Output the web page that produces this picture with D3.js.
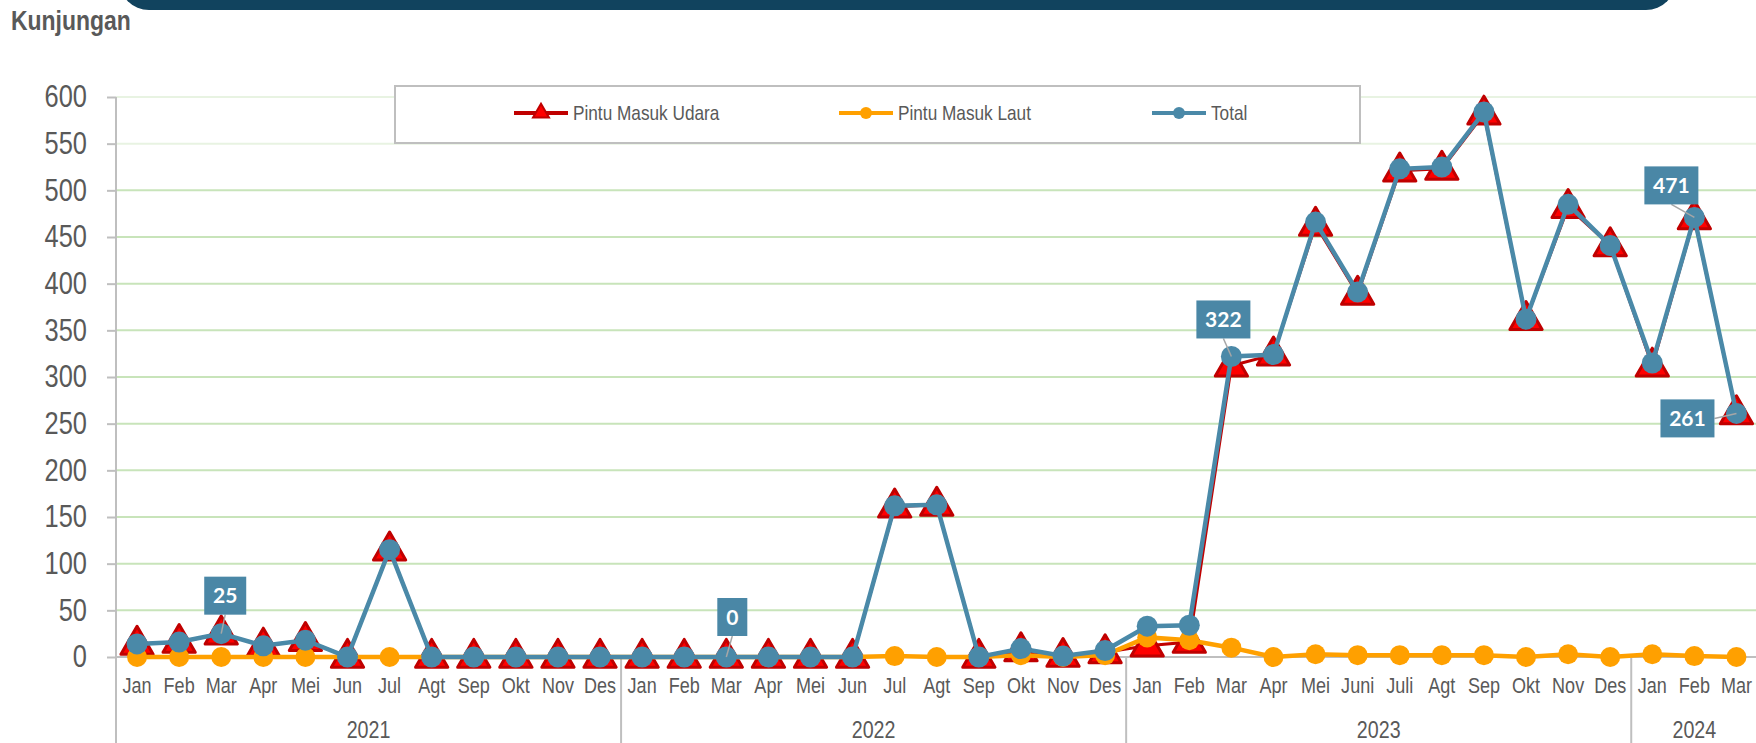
<!doctype html>
<html lang="id">
<head>
<meta charset="utf-8">
<title>Kunjungan</title>
<script src="https://d3js.org/d3.v7.min.js"></script>
<style>
  body { margin: 0; background: #fff; }
  svg text { font-family: "Liberation Sans", Arial, sans-serif; fill: #595959; }
</style>
</head>
<body>
<svg id="chart" width="1756" height="743"></svg>
<script>
// categories
var months = ["Jan","Feb","Mar","Apr","Mei","Jun","Jul","Agt","Sep","Okt","Nov","Des",
              "Jan","Feb","Mar","Apr","Mei","Jun","Jul","Agt","Sep","Okt","Nov","Des",
              "Jan","Feb","Mar","Apr","Mei","Juni","Juli","Agt","Sep","Okt","Nov","Des",
              "Jan","Feb","Mar"];
var years = ["2021","2022","2023","2024"];
var yearSpans = [12, 12, 12, 3];

// series
var udara = [14,16,25,12,18,0,115,0,0,0,0,0,
             0,0,0,0,0,0,161,163,0,7,1,5,
             12,16,312,324,463,389,521,523,582,362,482,441,
             312,470,261];
var laut  = [0,0,0,0,0,0,0,0,0,0,0,0,
             0,0,0,0,0,0,1,0,0,2,0,2,
             21,18,10,0,3,2,2,2,2,0,3,0,
             3,1,0];
var total = [14,16,25,12,18,0,115,0,0,0,0,0,
             0,0,0,0,0,0,162,163,0,9,1,7,
             33,34,322,324,466,391,523,525,584,362,485,441,
             315,471,261];

var yTicks = [0,50,100,150,200,250,300,350,400,450,500,550,600];
var seriesNames = ["Pintu Masuk Udara", "Pintu Masuk Laut", "Total"];
var labelled = [2, 14, 26, 37, 38];   // indices of total points with data labels

var svg = d3.select("#chart");
var idx = d3.range(months.length);
var SQ = 0.82;   // horizontal squeeze, stands in for a narrow font

var x = d3.scaleBand().domain(idx).range([116, 116 + 42.09 * months.length]).paddingInner(0);
var y = d3.scaleLinear().domain([0, 600]).range([657, 97]);
var cx = function(i) { return x(i) + x.bandwidth() / 2; };

function ntext(parent, tx, ty, str, size) {
  return parent.append("text")
    .attr("transform", "translate(" + tx + "," + ty + ") scale(" + SQ + ",1)")
    .style("font-size", size + "px").text(str);
}

// header bar
svg.append("rect").attr("x", 119).attr("y", -60).attr("width", 1557).attr("height", 70)
  .attr("rx", 30).attr("fill", "#11435e");

ntext(svg, 11, 30, "Kunjungan", 28).style("font-weight", "bold");

// gridlines
svg.append("g").selectAll("line").data(yTicks.filter(function(d){ return d > 0; }))
  .join("line")
  .attr("x1", 116).attr("x2", 1756)
  .attr("y1", function(d){ return y(d); }).attr("y2", function(d){ return y(d); })
  .attr("stroke", function(d){ return d >= 550 ? "#e8f3e2" : "#c8e4ba"; })
  .attr("stroke-width", 2);

// y axis
var yAxis = svg.append("g").attr("transform", "translate(116,0)")
  .call(d3.axisLeft(y).tickValues(yTicks).tickSize(9));
yAxis.select(".domain").remove();
yAxis.selectAll("line").attr("stroke", "#bfbfbf").attr("stroke-width", 2);
yAxis.selectAll("text").attr("x", 0).attr("fill", "#595959")
  .attr("transform", "translate(-29,0) scale(" + SQ + ",1)")
  .style("font-size", "31px");
svg.append("line").attr("x1", 116).attr("x2", 116).attr("y1", 97).attr("y2", 743)
  .attr("stroke", "#bfbfbf").attr("stroke-width", 2);

// x axis
svg.append("line").attr("x1", 116).attr("x2", 1756).attr("y1", 657).attr("y2", 657)
  .attr("stroke", "#bfbfbf").attr("stroke-width", 2);
var xAxis = svg.append("g").attr("transform", "translate(0,657)")
  .call(d3.axisBottom(x).tickSize(0).tickPadding(20).tickFormat(function(i){ return months[i]; }));
xAxis.select(".domain").remove();
xAxis.selectAll("text").attr("fill", "#595959")
  .attr("transform", "scale(" + SQ + ",1)")
  .style("font-size", "22px");

// year groups
var start = 0;
years.forEach(function(yr, k) {
  var a = x(start), b = x(start + yearSpans[k] - 1) + x.bandwidth();
  ntext(svg, (a + b) / 2, 738, yr, 24).attr("text-anchor", "middle");
  if (k > 0) {
    svg.append("line").attr("x1", a).attr("x2", a).attr("y1", 657).attr("y2", 743)
      .attr("stroke", "#bfbfbf").attr("stroke-width", 2);
  }
  start += yearSpans[k];
});

var line = function(vals) {
  return d3.line().x(function(i){ return cx(i); }).y(function(i){ return y(vals[i]); })(idx);
};
var tri = d3.symbol().type(d3.symbolTriangle).size(450);

// Pintu Masuk Udara
svg.append("path").attr("d", line(udara)).attr("fill", "none")
  .attr("stroke", "#c00000").attr("stroke-width", 3);
svg.append("g").selectAll("path").data(idx).join("path")
  .attr("d", tri)
  .attr("transform", function(i){ return "translate(" + cx(i) + "," + (y(udara[i]) + 1) + ")"; })
  .attr("fill", "#ff0000").attr("stroke", "#c00000").attr("stroke-width", 3)
  .attr("stroke-linejoin", "round");

// Pintu Masuk Laut
svg.append("path").attr("d", line(laut)).attr("fill", "none")
  .attr("stroke", "#ffa000").attr("stroke-width", 4.5);
svg.append("g").selectAll("circle").data(idx).join("circle")
  .attr("cx", cx).attr("cy", function(i){ return y(laut[i]); }).attr("r", 10)
  .attr("fill", "#ffa000");

// Total
svg.append("path").attr("d", line(total)).attr("fill", "none")
  .attr("stroke", "#4a89a8").attr("stroke-width", 4.5);
svg.append("g").selectAll("circle").data(idx).join("circle")
  .attr("cx", cx).attr("cy", function(i){ return y(total[i]); }).attr("r", 10.5)
  .attr("fill", "#4a89a8");

// data labels
var boxOffsets = { 2: [4, -38], 14: [6, -40], 26: [-8, -37], 37: [-23, -32], 38: [-49, 5] };
labelled.forEach(function(i) {
  var px = cx(i), py = y(total[i]);
  var t = String(total[i]);
  var w = 18 + 12 * t.length, h = 38;
  var bx = px + boxOffsets[i][0], by = py + boxOffsets[i][1];
  var lx = bx, ly = by + h / 2;
  if (i === 38) { lx = bx + w / 2; ly = by; }
  svg.append("line").attr("x1", lx).attr("y1", ly).attr("x2", px).attr("y2", py)
    .attr("stroke", "#a6a6a6").attr("stroke-width", 1.5);
  svg.append("rect").attr("x", bx - w / 2).attr("y", by - h / 2).attr("width", w).attr("height", h)
    .attr("fill", "#4a87a6");
  svg.append("text").attr("x", bx).attr("y", by + 7.5).attr("text-anchor", "middle")
    .style("font-family", "Lato, \"Open Sans\", sans-serif").style("font-weight", "bold")
    .style("font-size", "21px").style("fill", "#ffffff").text(t);
});

// legend
svg.append("rect").attr("x", 395).attr("y", 86).attr("width", 965).attr("height", 57)
  .attr("fill", "#ffffff").attr("stroke", "#bfbfbf").attr("stroke-width", 2);
var legendX = [514, 839, 1152];
var colors = ["#c00000", "#ffa000", "#4a89a8"];
seriesNames.forEach(function(name, k) {
  var g = svg.append("g").attr("transform", "translate(" + legendX[k] + ",113)");
  g.append("line").attr("x1", 0).attr("x2", 54).attr("stroke", colors[k]).attr("stroke-width", 4);
  if (k === 0) {
    g.append("path").attr("d", d3.symbol().type(d3.symbolTriangle).size(110))
      .attr("transform", "translate(27,0)").attr("fill", "#ff0000").attr("stroke", "#c00000").attr("stroke-width", 2);
  } else {
    g.append("circle").attr("cx", 27).attr("r", 6).attr("fill", colors[k]);
  }
  ntext(g, 59, 7, name, 21);
});
</script>
</body>
</html>
